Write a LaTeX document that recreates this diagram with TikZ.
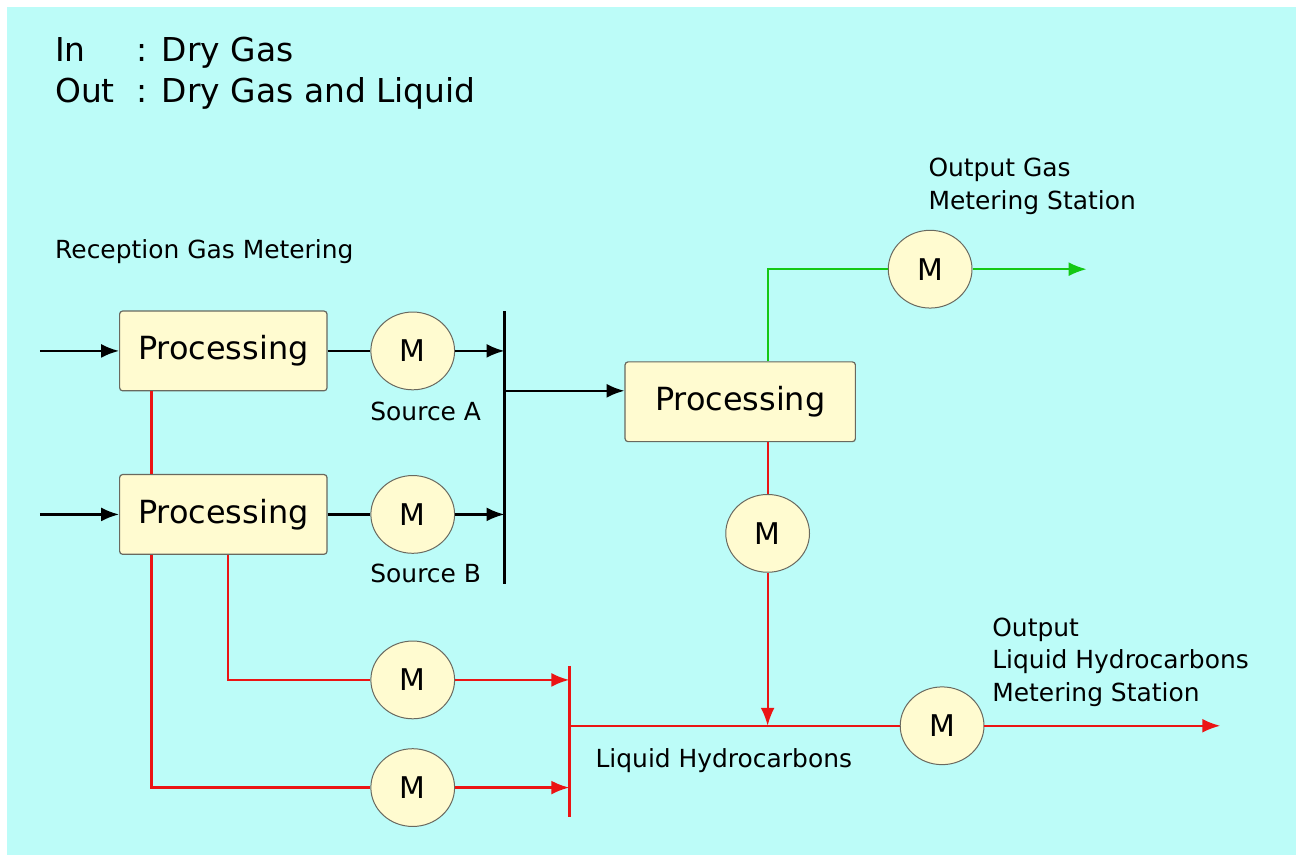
\documentclass[tikz,border=0pt]{standalone}
\usepackage{fontspec}
\setmainfont{DejaVu Sans}
\usetikzlibrary{arrows.meta,shapes.geometric}
\definecolor{bgcyan}{RGB}{188,252,248}
\definecolor{boxfill}{RGB}{255,251,208}
\definecolor{boxedge}{RGB}{105,105,95}
\definecolor{pipered}{RGB}{235,20,20}
\definecolor{pipegreen}{RGB}{20,200,20}

\begin{document}
\begin{tikzpicture}[x=0.5pt,y=-0.5pt,
  procbox/.style={draw=boxedge,fill=boxfill,rounded corners=1.5pt,minimum width=104pt,minimum height=40pt,inner sep=0pt,line width=0.6pt,font=\fontsize{16}{18}\selectfont},
  meter/.style={ellipse,draw=boxedge,fill=boxfill,minimum width=42pt,minimum height=39pt,inner sep=0pt,line width=0.5pt,font=\fontsize{15}{17}\selectfont},
  lbl/.style={inner sep=0pt,font=\fontsize{12.5}{16.5}\selectfont},
  head/.style={inner sep=0pt,anchor=base west,font=\fontsize{16.5}{18}\selectfont},
  pipe/.style={line width=1.1pt},
  redpipe/.style={pipe,draw=pipered},
  greenpipe/.style={pipe,draw=pipegreen},
  arr/.style={-{Latex[length=9pt,width=7pt]}}]
\fill[white] (0,0) rectangle (1300,858);
\fill[bgcyan] (7,7) rectangle (1300,858);
\useasboundingbox (0,0) rectangle (1296,854);
% header
\node[head] (inword) at (55,62) {In};
\node[head] (intext) at (137,62) {: Dry Gas};
\node[head] (outword) at (55,103) {Out};
\node[head] (outtext) at (137,103) {: Dry Gas and Liquid};
\node[lbl,anchor=west] (reception) at (55,252) {Reception Gas Metering};
% reception side
\node[procbox] (procA) at (224,352) {Processing};
\node[procbox] (procB) at (224,516) {Processing};
\node[meter] (mA) at (414,352) {M};
\node[meter] (mB) at (414,516) {M};
\node[lbl] (srcA) at (427,413) {Source A};
\node[lbl] (srcB) at (427,575) {Source B};
\coordinate (inA) at (40,352);
\coordinate (inB) at (40,516);
\coordinate (barA) at (506,352);
\coordinate (barB) at (506,516);
\coordinate (bartop) at (506,312);
\coordinate (barbot) at (506,586);
\coordinate (barmid) at (506,392);
\draw[pipe,arr] (inA) -- (procA);
\draw[pipe,arr] (inB) -- (procB);
\draw[pipe] (procA) -- (mA);
\draw[pipe] (procB) -- (mB);
\draw[pipe,arr] (mA) -- (barA);
\draw[pipe,arr] (mB) -- (barB);
\draw[line width=1.5pt] (bartop) -- (barbot);
% central processing
\node[procbox,minimum width=115.5pt] (procC) at (742.5,403) {Processing};
\draw[pipe,arr] (barmid) -- (barmid -| procC.west);
% gas output
\node[meter] (mG) at (933,270) {M};
\coordinate (gasbend) at (770,270);
\coordinate (gasout) at (1090,270);
\draw[greenpipe] (procC.north -| gasbend) -- (gasbend) -- (mG);
\draw[greenpipe,arr] (mG) -- (gasout);
\node[lbl,anchor=north west,align=left] (gaslbl) at (931,158) {Output Gas\\Metering Station};
% liquid lines
\node[meter] (mF) at (770,535) {M};
\node[meter] (mD) at (414,682) {M};
\node[meter] (mE) at (414,790) {M};
\node[meter] (mOut) at (945,728) {M};
\coordinate (cornD) at (229,682);
\coordinate (cornE) at (152,790);
\coordinate (barD) at (571,682);
\coordinate (barE) at (571,790);
\coordinate (liqtop) at (571,668);
\coordinate (liqbot) at (571,820);
\coordinate (liqmid) at (571,728);
\coordinate (joinF) at (770,728);
\coordinate (liqout) at (1224,728);
\draw[redpipe] (procA.south -| cornE) -- (procB.north -| cornE);
\draw[redpipe] (procB.south -| cornE) -- (cornE) -- (mE);
\draw[redpipe] (procB.south -| cornD) -- (cornD) -- (mD);
\draw[redpipe,arr] (mD) -- (barD);
\draw[redpipe,arr] (mE) -- (barE);
\draw[redpipe,line width=1.5pt] (liqtop) -- (liqbot);
\draw[redpipe] (procC.south -| mF) -- (mF);
\draw[redpipe,arr] (mF) -- (joinF);
\draw[redpipe] (liqmid) -- (mOut);
\draw[redpipe,arr] (mOut) -- (liqout);
\node[lbl,anchor=west] (liqlbl) at (597,763) {Liquid Hydrocarbons};
\node[lbl,anchor=north west,align=left] (liqout lbl) at (995,619) {Output\\Liquid Hydrocarbons\\Metering Station};
\end{tikzpicture}
\end{document}
